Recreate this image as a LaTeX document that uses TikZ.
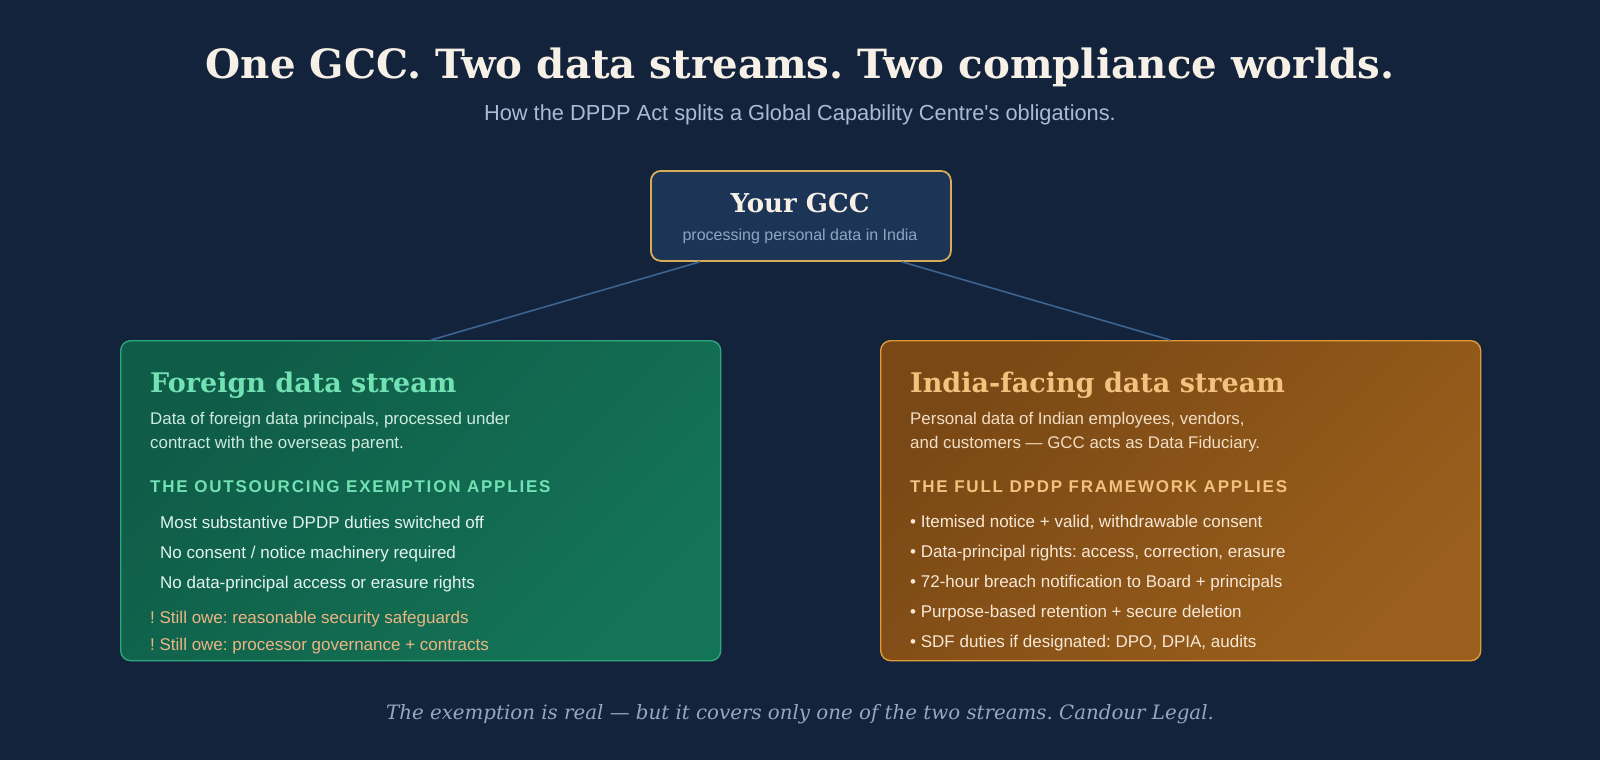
\documentclass[tikz,border=0pt]{standalone}
\usepackage{fontspec}
\setmainfont{Liberation Sans}
\newfontfamily\serifbold{DejaVu Serif}[BoldFont={DejaVu Serif Bold}]
\newfontfamily\serifital{DejaVu Serif Italic}
\newfontfamily\spacedbold{Liberation Sans Bold}[LetterSpace=10.5]
\usetikzlibrary{positioning, calc}
\definecolor{PageBg}{HTML}{13233B}
\definecolor{TitleCream}{HTML}{F6F0E6}
\definecolor{SubGrey}{HTML}{A9BBD6}
\definecolor{GccFill}{HTML}{1C3456}
\definecolor{GccGold}{HTML}{D8AC58}
\definecolor{GccSub}{HTML}{8FA5C4}
\definecolor{LinkBlue}{HTML}{3D6392}
\definecolor{GreenDark}{HTML}{0F5C48}
\definecolor{GreenLight}{HTML}{147456}
\definecolor{GreenEdge}{HTML}{2EA77A}
\definecolor{Mint}{HTML}{72E2B4}
\definecolor{GreenText}{HTML}{CDEBDD}
\definecolor{GreenItem}{HTML}{E2F4EC}
\definecolor{Peach}{HTML}{EDB584}
\definecolor{AmberDark}{HTML}{7A4815}
\definecolor{AmberLight}{HTML}{9A5F1C}
\definecolor{AmberEdge}{HTML}{E09A38}
\definecolor{Sand}{HTML}{F3C27E}
\definecolor{AmberText}{HTML}{F2DEC4}
\definecolor{AmberItem}{HTML}{F7E8D6}
\definecolor{FootGrey}{HTML}{97A6C2}
\newcommand{\pxsize}[1]{\fontsize{#1}{#1}\selectfont}
\tikzset{
  % Riquadri
  gccbox/.style={rounded corners=10pt,line width=1.8pt,draw=GccGold,fill=GccFill,
    minimum width=300pt,minimum height=90pt,anchor=north west},
  streambox/.style={rounded corners=10pt,line width=1.4pt,minimum width=600pt,
    minimum height=320pt,anchor=north west},
  % Testi
  txt/.style={anchor=base west,inner sep=0pt},
  boxtitle/.style={txt,font=\serifbold\bfseries\pxsize{27}},
  boxdesc/.style={txt,font=\pxsize{16.9}},
  boxhead/.style={txt,font=\spacedbold\pxsize{17}},
  boxitem/.style={txt,font=\pxsize{17}},
  % Connessioni
  link/.style={LinkBlue,line width=1.6pt}
}

\begin{document}
\frenchspacing
\begin{tikzpicture}[x=1pt,y=-1pt]
  \fill[PageBg] (0,0) rectangle (1600,760);
  % Intestazione
  \node[anchor=base,inner sep=0pt,TitleCream,font=\serifbold\bfseries\pxsize{40.3}] (title) at (800,78)
    {One GCC. Two data streams. Two compliance worlds.};
  \node[anchor=base,inner sep=0pt,SubGrey,font=\pxsize{21.8}] (subtitle) at (800,120)
    {How the DPDP Act splits a Global Capability Centre\textquotesingle s obligations.};
  % Nodo centrale
  \node[gccbox] (gcc) at (650,170) {};
  \node[anchor=base,inner sep=0pt,TitleCream,font=\serifbold\bfseries\pxsize{26}] (gcctitle) at (800,212) {Your GCC};
  \node[anchor=base,inner sep=0pt,GccSub,font=\pxsize{16}] (gccsub) at (800,240) {processing personal data in India};
  % Flussi
  \node[streambox,draw=GreenEdge,top color=GreenDark,bottom color=GreenLight,shading angle=45] (foreign) at (120,340) {};
  \node[streambox,draw=AmberEdge,top color=AmberDark,bottom color=AmberLight,shading angle=45] (india) at (880,340) {};
  \draw[link] ($(gcc.south west)+(50,0)$) -- ($(foreign.north west)+(311,0)$);
  \draw[link] ($(gcc.south east)+(-50,0)$) -- ($(india.north west)+(290,0)$);
  % Flusso estero
  \node[boxtitle,Mint] (ftitle) at (150,392) {Foreign data stream};
  \node[boxdesc,GreenText] (fdesc1) at (150,424) {Data of foreign data principals, processed under};
  \node[boxdesc,GreenText] (fdesc2) at (150,448) {contract with the overseas parent.};
  \node[boxhead,Mint] (fhead) at (150,492) {THE OUTSOURCING EXEMPTION APPLIES};
  \foreach \txt [count=\i] in {Most substantive DPDP duties switched off,
      No consent / notice machinery required,
      No data-principal access or erasure rights}
    \node[boxitem,GreenItem] (fitem\i) at (160,498+30*\i) {\txt};
  \node[boxitem,Peach] (fwarn1) at (150,623) {! Still owe: reasonable security safeguards};
  \node[boxitem,Peach] (fwarn2) at (150,650) {! Still owe: processor governance + contracts};
  % Flusso India
  \node[boxtitle,Sand] (ititle) at (910,392) {India-facing data stream};
  \node[boxdesc,AmberText] (idesc1) at (910,424) {Personal data of Indian employees, vendors,};
  \node[boxdesc,AmberText] (idesc2) at (910,448) {and customers — GCC acts as Data Fiduciary.};
  \node[boxhead,Sand] (ihead) at (910,492) {THE FULL DPDP FRAMEWORK APPLIES};
  \foreach \txt [count=\i] in {Itemised notice + valid{,} withdrawable consent,
      Data-principal rights: access{,} correction{,} erasure,
      72-hour breach notification to Board + principals,
      Purpose-based retention + secure deletion,
      SDF duties if designated: DPO{,} DPIA{,} audits}
    \node[boxitem,AmberItem] (iitem\i) at (910,497+30*\i) {• \txt};
  % Nota finale
  \node[anchor=base,inner sep=0pt,FootGrey,font=\serifital\pxsize{19.8}] (footer) at (800,719)
    {The exemption is real — but it covers only one of the two streams. Candour Legal.};
\end{tikzpicture}
\end{document}
